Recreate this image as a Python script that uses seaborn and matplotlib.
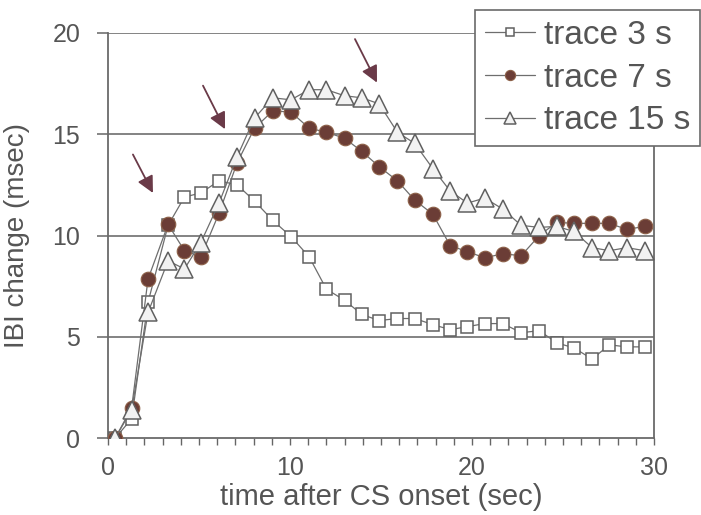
import numpy as np
import matplotlib
matplotlib.use("Agg")
import matplotlib.pyplot as plt
import seaborn as sns
from matplotlib.ticker import MultipleLocator

# Data
time_s = [0.4, 1.3, 2.2, 3.3, 4.2, 5.1, 6.1, 7.1, 8.05, 9.05, 10.05, 11.05, 12.0, 13.0,
          13.95, 14.9, 15.9, 16.85, 17.85, 18.8, 19.75, 20.7, 21.7, 22.7, 23.7, 24.65,
          25.6, 26.6, 27.55, 28.5, 29.5]
trace3 = [0, 0.95, 6.7, 10.5, 11.9, 12.1, 12.7, 12.5, 11.7, 10.75, 9.95, 8.95, 7.35, 6.8,
          6.1, 5.8, 5.9, 5.9, 5.6, 5.35, 5.5, 5.65, 5.65, 5.2, 5.3, 4.7, 4.45, 3.9, 4.6,
          4.5, 4.5]
trace7 = [0, 1.5, 7.85, 10.55, 9.25, 8.95, 11.1, 13.6, 15.3, 16.15, 16.1, 15.3, 15.1, 14.8,
          14.15, 13.4, 12.7, 11.75, 11.05, 9.5, 9.2, 8.9, 9.1, 9.0, 10.0, 10.65, 10.6, 10.6,
          10.6, 10.3, 10.45]
trace15 = [0, 1.4, 6.2, 8.75, 8.35, 9.65, 11.6, 13.9, 15.8, 16.8, 16.7, 17.2, 17.2, 16.9,
           16.8, 16.5, 15.1, 14.55, 13.3, 12.2, 11.6, 11.85, 11.3, 10.5, 10.4, 10.45, 10.2,
           9.4, 9.25, 9.4, 9.25]
labels = ["trace 3 s", "trace 7 s", "trace 15 s"]

# arrows: (tail x, tail y, head x, head y)
arrow_tails = [(1.37, 14.0), (5.22, 17.4), (13.57, 19.7)]
arrow_heads = [(2.47, 12.1), (6.43, 15.25), (14.78, 17.55)]

sns.set_style("white")
plt.rcParams['font.family'] = ['Liberation Sans', 'DejaVu Sans']

txt = "#555555"
line_col = "#6e6e6e"

fig = plt.figure(figsize=(7.01, 5.15), dpi=100)
ax = fig.add_axes([108 / 701, 1 - 438 / 515, (654 - 108) / 701, (438 - 33) / 515])

# horizontal grid lines
for yv in [5, 10, 15, 20]:
    ax.axhline(yv, color="#7a7a7a", lw=1.3, zorder=0)

sns.lineplot(x=time_s, y=trace3, ax=ax, color=line_col, lw=0.9, marker="s",
             markersize=9, markerfacecolor="white", markeredgecolor="#606060",
             markeredgewidth=1.1, label=labels[0], zorder=3)
sns.lineplot(x=time_s, y=trace7, ax=ax, color=line_col, lw=0.9, marker="o",
             markersize=10.5, markerfacecolor="#6b3d36", markeredgecolor="#8c6048",
             markeredgewidth=0.8, label=labels[1], zorder=4)
sns.lineplot(x=time_s, y=trace15, ax=ax, color=line_col, lw=0.9, marker="^",
             markersize=13, markerfacecolor="#f2f2f2", markeredgecolor="#606060",
             markeredgewidth=1.1, label=labels[2], zorder=5)

for (tx, ty), (hx, hy) in zip(arrow_tails, arrow_heads):
    ax.annotate("", xy=(hx, hy), xytext=(tx, ty),
                arrowprops=dict(arrowstyle="-|>,head_length=1.0,head_width=0.5",
                                color="#6a3a48", lw=1.3, shrinkA=0, shrinkB=0),
                zorder=6)

ax.set_xlim(0, 30)
ax.set_ylim(0, 20)
ax.set_yticks([0, 5, 10, 15, 20])
ax.set_xticks([0, 10, 20, 30])
ax.xaxis.set_minor_locator(MultipleLocator(1))
ax.tick_params(axis="y", which="major", direction="out", length=8, width=1.1,
               color="#666666", labelsize=18, labelcolor=txt, pad=12, left=True)
ax.tick_params(axis="x", which="major", direction="out", length=5, width=1.0,
               color="#666666", labelsize=18, labelcolor=txt, pad=8, bottom=True)
ax.tick_params(axis="x", which="minor", direction="out", length=5, width=1.0,
               color="#666666", bottom=True)

for s in ax.spines.values():
    s.set_color("#6a6a6a")
    s.set_linewidth(1.3)
ax.spines["top"].set_visible(False)

ax.set_xlabel("time after CS onset (sec)", fontsize=21, color=txt, labelpad=2)
ax.set_ylabel("IBI change (msec)", fontsize=20, color=txt, labelpad=16)

leg = ax.legend(loc="upper right", bbox_to_anchor=(700 / 701, 1 - 10 / 515),
                bbox_transform=fig.transFigure, fontsize=24, frameon=True,
                fancybox=False, framealpha=1, edgecolor="#6a6a6a",
                handlelength=1.5, handletextpad=0.25, labelspacing=0.35,
                borderpad=0.3, borderaxespad=0, markerscale=0.7)
leg.get_frame().set_linewidth(1.2)
leg.set_zorder(10)
for t in leg.get_texts():
    t.set_color(txt)

fig.savefig("out.png", dpi=100)
